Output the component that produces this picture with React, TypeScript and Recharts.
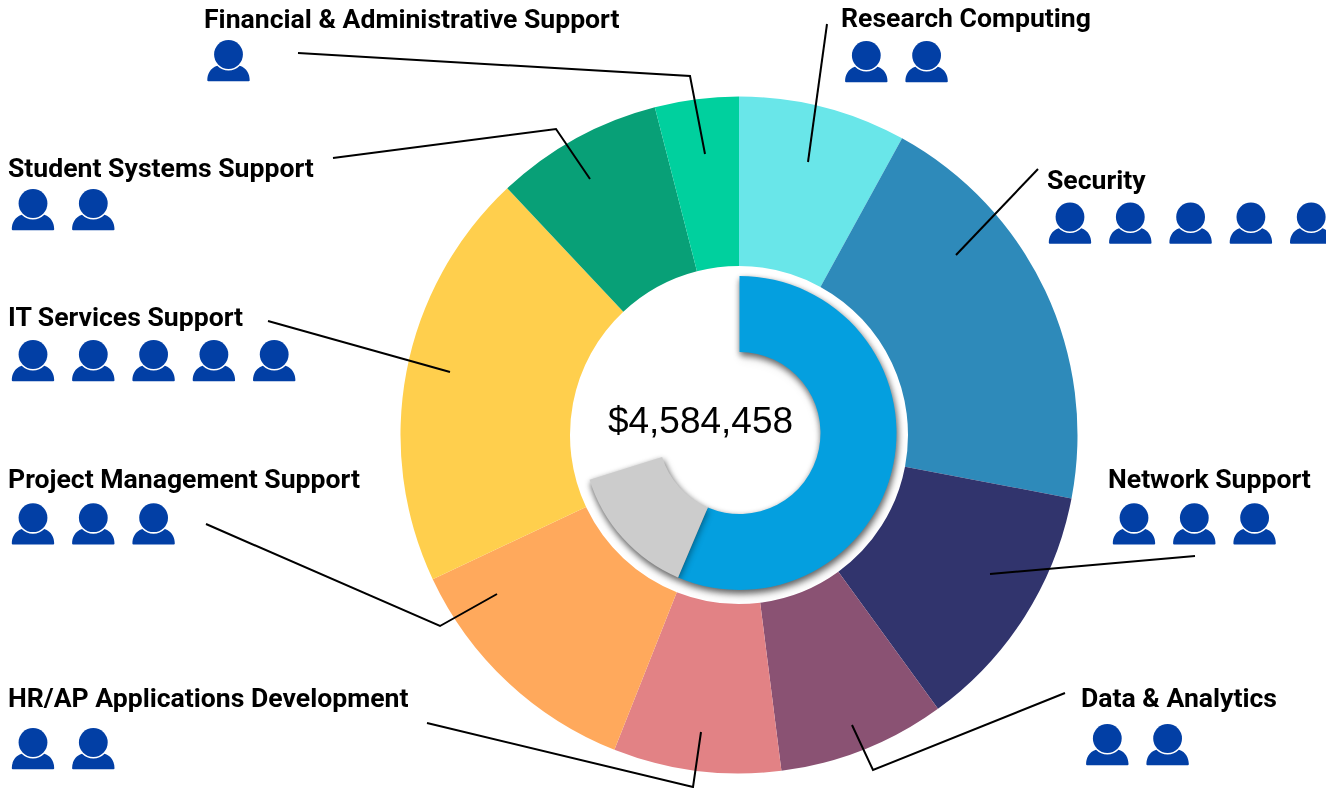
import React from "react";
import { PieChart, Pie, Cell } from "recharts";

const teams = ["Research Computing", "Security", "Network Support", "Data & Analytics", "HR/AP Applications Development", "Project Management Support", "IT Services Support", "Student Systems Support", "Financial & Administrative Support"];
const staffCounts = [2, 5, 3, 2, 2, 3, 5, 2, 1];
const teamColors = ["#69E6E9", "#2E8ABA", "#31346D", "#8A5273", "#E28285", "#FFA95C", "#FFCF4D", "#08A077", "#00D09E"];

const budgetNames = ["Spent", "Committed", "Remaining"];
const budgetShares = [56.4, 13.8, 29.8];
const budgetColors = ["#049FDF", "#CCCCCC", "transparent"];
const totalLabel = "$4,584,458";

const labelAnchors = [[841, 27], [1047, 189], [1108, 488], [1081, 707], [8, 707], [8, 488], [8, 326], [8, 177], [204, 28]];
const iconAnchors = [[866.3, 55.5], [1070, 217], [1134, 517.7], [1107.3, 738.5], [33, 742.5], [33, 517.7], [33, 354.5], [33, 203.5], [228.5, 54.5]];
const leaderPaths = [
  "827,24 808,162",
  "1038,169 956,255",
  "1195,556 990,574",
  "1065,693 873,770 852,725",
  "427,723 693,787 701,732",
  "206,524 440,626 497,594",
  "268,321 450,372",
  "333,158 556,129 590,179",
  "298,53 690,76 705,154",
];

const teamData = teams.map((name, i) => ({ name, value: staffCounts[i] }));
const budgetData = budgetNames.map((name, i) => ({ name, value: budgetShares[i] }));

const ICON_COLOR = "#023FA5";
const ICON_STEP = 60.3;

function Person({ x, y }: { x: number; y: number }) {
  return (
    <g transform={`translate(${x},${y})`}>
      <path d="M-21.2,25.7 C-21.2,20 -18.5,13.5 -11.3,11.3 A16,16 0 0 0 11.3,11.3 C18.5,13.5 21.2,20 21.2,25.7 Q21.2,26.7 20.2,26.7 L-20.2,26.7 Q-21.2,26.7 -21.2,25.7 Z" fill={ICON_COLOR} />
      <circle cx={0} cy={0} r={14.4} fill={ICON_COLOR} />
    </g>
  );
}

function Annotations() {
  return (
    <svg width={1326} height={788} style={{ position: "absolute", left: 0, top: 0, pointerEvents: "none" }}>
      {leaderPaths.map((pts, i) => (
        <polyline key={i} points={pts} fill="none" stroke="#000" strokeWidth={2} />
      ))}
      {teams.map((t, i) => (
        <text key={t} x={labelAnchors[i][0]} y={labelAnchors[i][1]} fontFamily="Roboto" fontWeight={700} fontSize={26.6} fill="#000">
          {t}
        </text>
      ))}
      {staffCounts.map((n, i) =>
        Array.from({ length: n }).map((_, k) => (
          <Person key={`${i}-${k}`} x={iconAnchors[i][0] + k * ICON_STEP} y={iconAnchors[i][1]} />
        ))
      )}
      <text x={700.5} y={433} fontFamily="Liberation Sans" fontSize={37} fill="#000" textAnchor="middle">
        {totalLabel}
      </text>
    </svg>
  );
}

export default function App() {
  return (
    <div style={{ position: "absolute", left: 0, top: 0, width: 1326, height: 788, background: "#fff", overflow: "hidden" }}>
      <style>{`.inner-pie{filter:drop-shadow(1.5px 3px 3px rgba(0,0,0,0.38));}`}</style>
      <PieChart width={1326} height={788} margin={{ top: 0, right: 0, bottom: 0, left: 0 }}>
        <Pie data={teamData} dataKey="value" nameKey="name" cx={739} cy={435} innerRadius={169} outerRadius={338.5} startAngle={90} endAngle={-270} stroke="none" isAnimationActive={false}>
          {teamData.map((d, i) => (
            <Cell key={d.name} fill={teamColors[i]} />
          ))}
        </Pie>
        <Pie className="inner-pie" data={budgetData} dataKey="value" nameKey="name" cx={739.5} cy={433} innerRadius={81} outerRadius={157} startAngle={90} endAngle={-270} stroke="none" isAnimationActive={false}>
          {budgetData.map((d, i) => (
            <Cell key={d.name} fill={budgetColors[i]} />
          ))}
        </Pie>
      </PieChart>
      <Annotations />
    </div>
  );
}
